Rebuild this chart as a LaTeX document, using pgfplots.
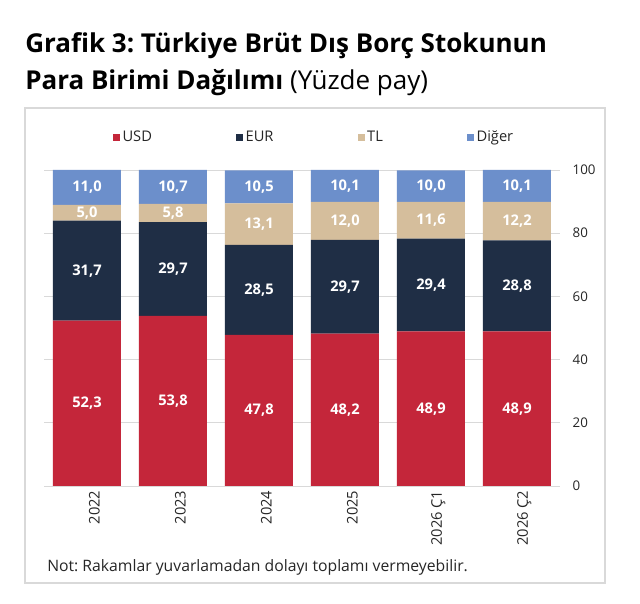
\documentclass[border=0pt]{standalone}
\usepackage{fontspec}
\setmainfont{Open Sans}
\usepackage{pgfplots}
\pgfplotsset{compat=1.18}
\frenchspacing
\definecolor{cusd}{HTML}{C4263A}
\definecolor{ceur}{HTML}{1F2E45}
\definecolor{ctl}{HTML}{D5BE9C}
\definecolor{cdiger}{HTML}{6C8FCB}
\pgfplotsset{
  frame/.style={at={(33pt,88.5pt)}, anchor=south west, scale only axis,
    width=387pt, height=237pt, xmin=-0.5, xmax=5.5, ymin=0, ymax=100},
}
\begin{document}
\begin{tikzpicture}
\path[fill=white] (0,0) rectangle (480pt,453pt);
\draw[color=gray!30, line width=0.8pt] (18.75pt,15.75pt) rectangle (453.75pt,372pt);
\node[anchor=base west, inner sep=0, font=\bfseries\fontsize{19.5}{22}\selectfont] at (18.75pt,413.25pt) {Grafik 3: Türkiye Brüt Dış Borç Stokunun};
\node[anchor=base west, inner sep=0, font=\fontsize{19.5}{22}\selectfont] at (18.75pt,386pt) {\textbf{Para Birimi Dağılımı} (Yüzde pay)};
\node[anchor=base west, inner sep=0, font=\fontsize{11.8}{13}\selectfont, text=black!85] at (35.25pt,24pt) {Not: Rakamlar yuvarlamadan dolayı toplamı vermeyebilir.};
\begin{axis}[
  frame,
  ybar stacked, bar width=51pt,
  xtick=data, xticklabels={2022,2023,2024,2025,2026 Ç1,2026 Ç2},
  ytick={0,20,...,100}, yticklabel pos=right,
  /pgf/number format/assume math mode=true,
  axis line style={draw=none}, major tick style={draw=none},
  ymajorgrids, grid style={gray!30, line width=0.6pt},
  yticklabel style={font=\fontsize{10}{12}\selectfont, text=black!85, anchor=west, xshift=6pt},
  xticklabel style={font=\fontsize{11}{13}\selectfont, text=black!85, rotate=90, anchor=east, yshift=-5.5pt},
  legend columns=4,
  legend style={draw=none, fill=none, at={(0.524,1.104)}, anchor=center, font=\fontsize{11}{13}\selectfont, text=black!85, /tikz/every even column/.append style={column sep=61pt}},
  legend image code/.code={\path[#1] (0pt,-2.6pt) rectangle (5.25pt,2.6pt);},
]
\addplot[fill=cusd, draw=none] coordinates {(0,52.3)(1,53.8)(2,47.8)(3,48.2)(4,48.9)(5,48.9)};
\addplot[fill=ceur, draw=none] coordinates {(0,31.7)(1,29.7)(2,28.5)(3,29.7)(4,29.4)(5,28.8)};
\addplot[fill=ctl, draw=none] coordinates {(0,5.0)(1,5.8)(2,13.1)(3,12.0)(4,11.6)(5,12.2)};
\addplot[fill=cdiger, draw=none] coordinates {(0,11.0)(1,10.7)(2,10.5)(3,10.1)(4,10.0)(5,10.1)};
\legend{USD,EUR,TL,Diğer}
\end{axis}
\begin{axis}[
  frame, axis lines=none, clip=false,
  nodes near coords, point meta=explicit symbolic,
  every node near coord/.append style={anchor=center, text=white, font=\bfseries\fontsize{11}{13}\selectfont},
]
\addplot[draw=none, mark=none] coordinates {(0,26.15)[52,3] (1,26.9)[53,8] (2,23.9)[47,8] (3,24.1)[48,2] (4,24.45)[48,9] (5,24.45)[48,9]};
\addplot[draw=none, mark=none] coordinates {(0,68.15)[31,7] (1,68.65)[29,7] (2,62.05)[28,5] (3,63.05)[29,7] (4,63.6)[29,4] (5,63.3)[28,8]};
\addplot[draw=none, mark=none] coordinates {(0,86.5)[5,0] (1,86.4)[5,8] (2,82.85)[13,1] (3,83.9)[12,0] (4,84.1)[11,6] (5,83.8)[12,2]};
\addplot[draw=none, mark=none] coordinates {(0,94.5)[11,0] (1,94.65)[10,7] (2,94.65)[10,5] (3,94.95)[10,1] (4,94.9)[10,0] (5,94.95)[10,1]};
\end{axis}
\end{tikzpicture}
\end{document}
